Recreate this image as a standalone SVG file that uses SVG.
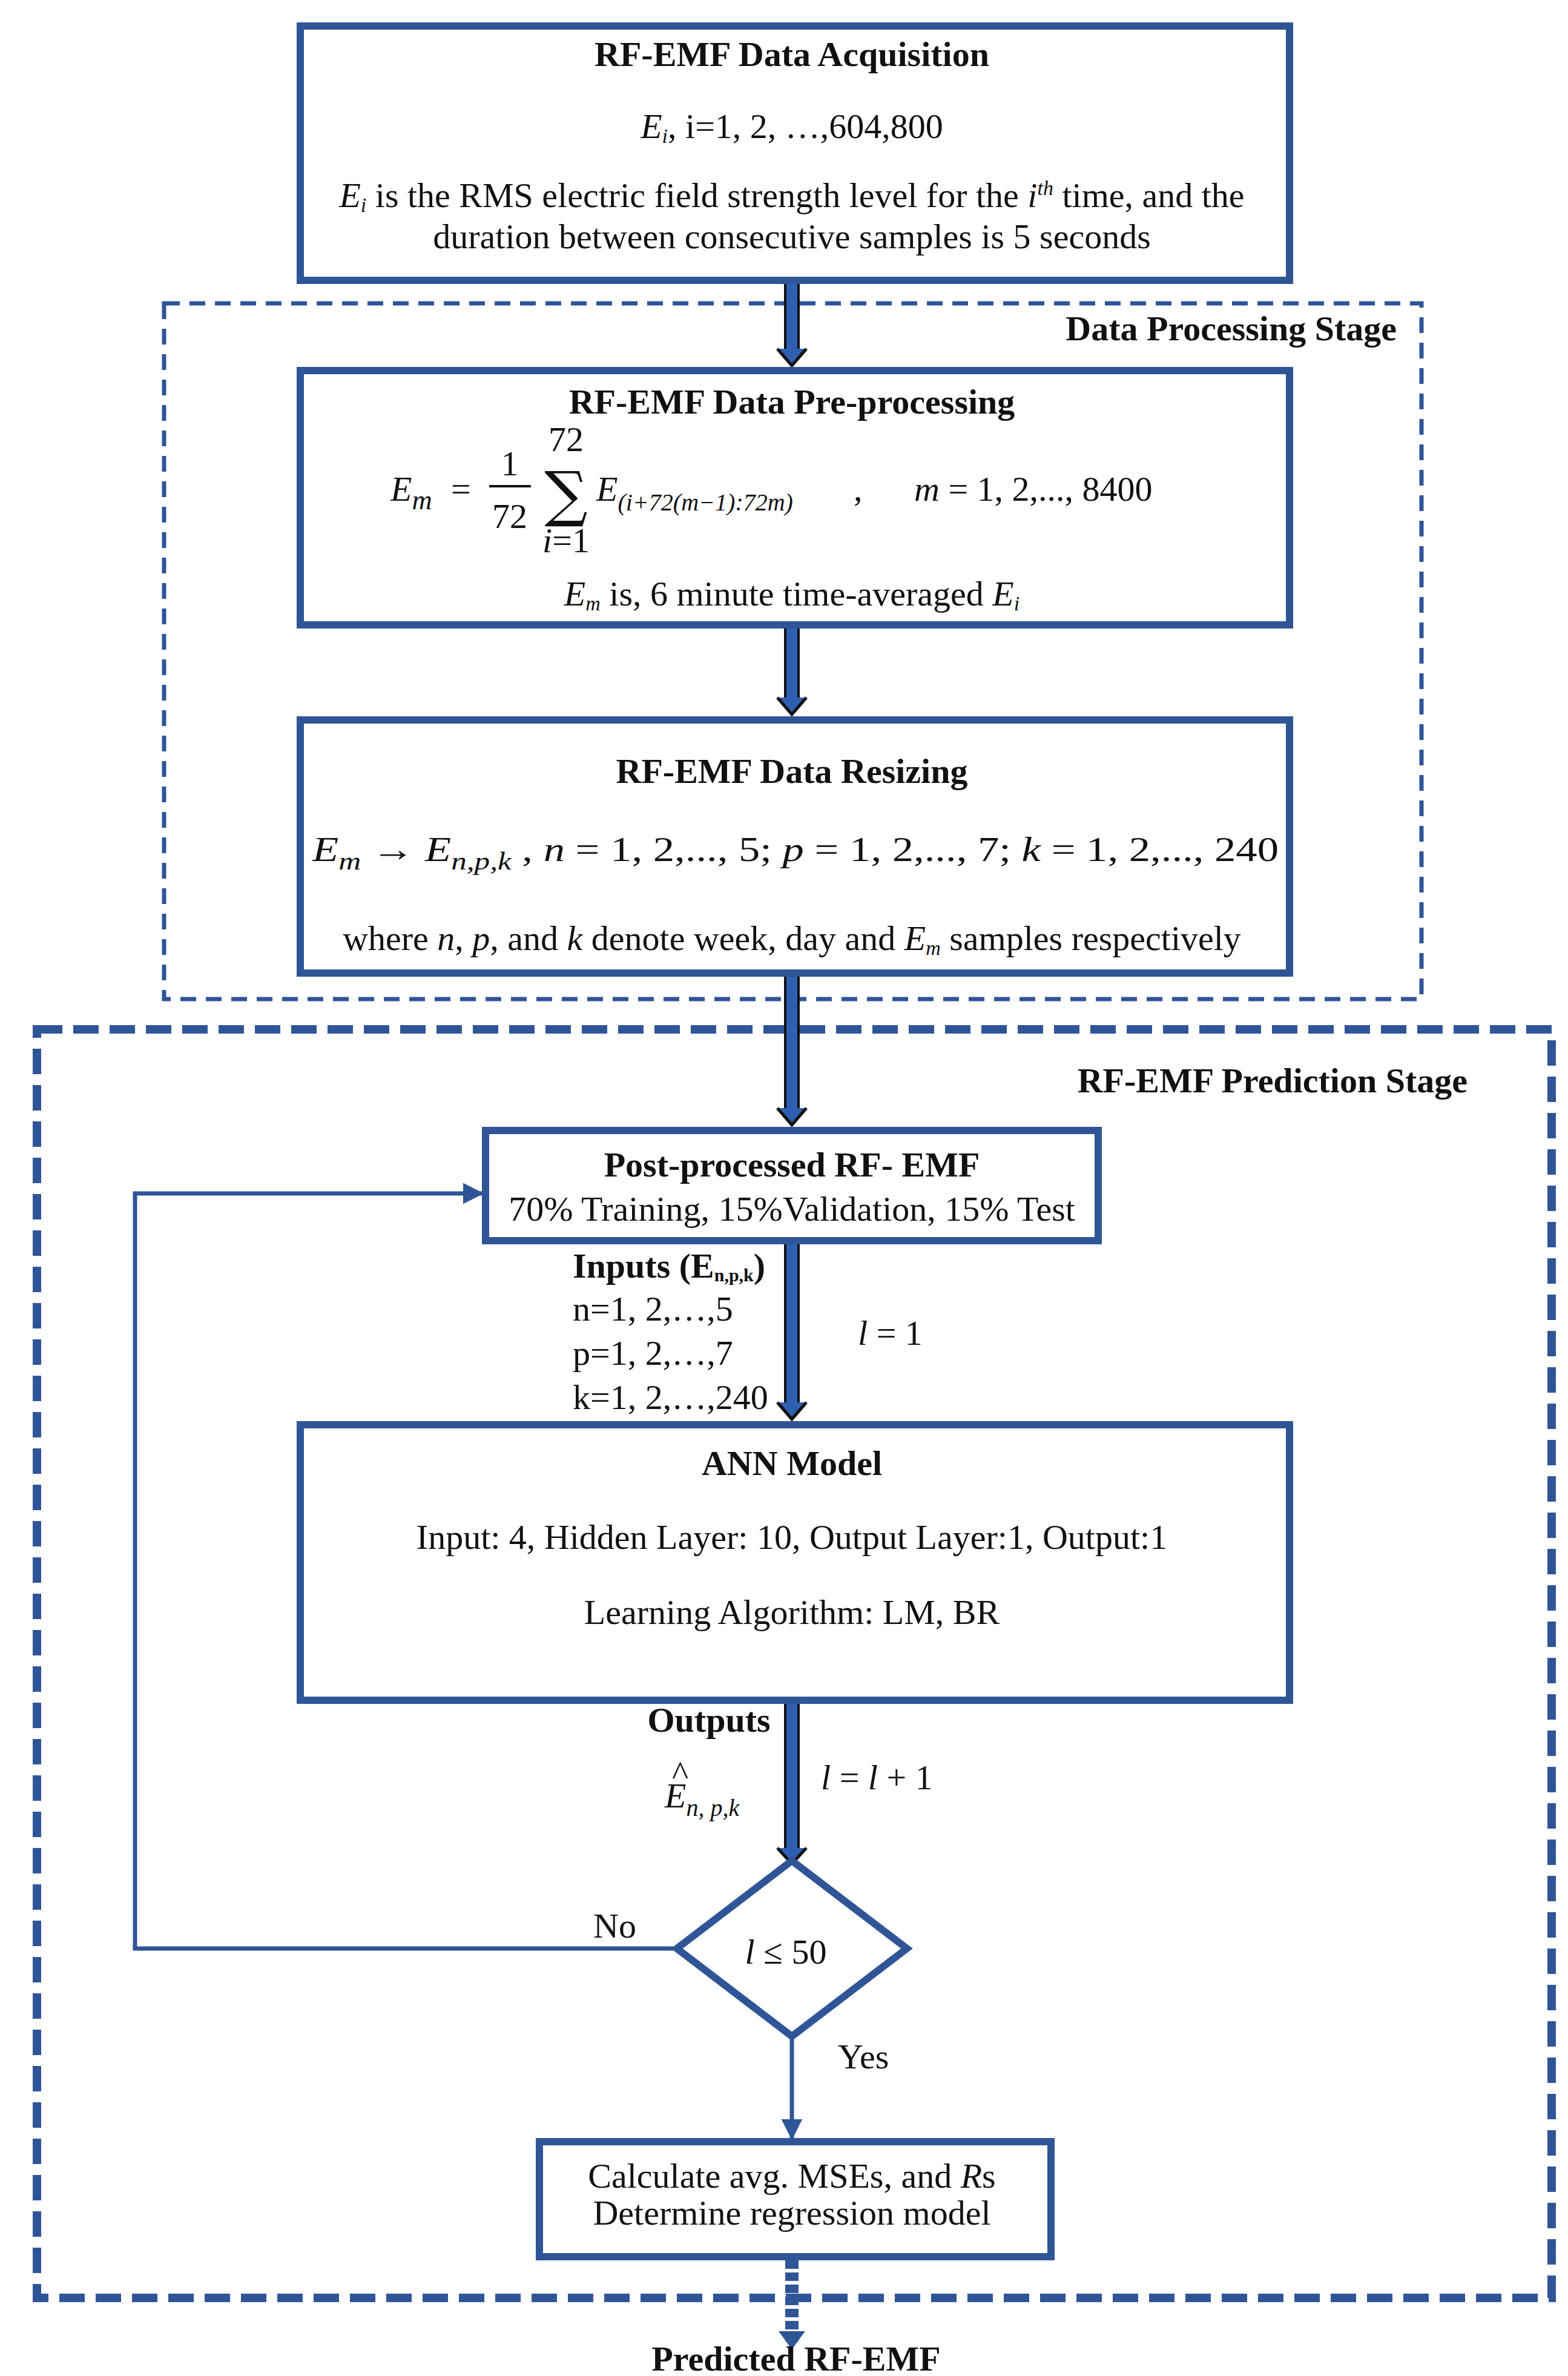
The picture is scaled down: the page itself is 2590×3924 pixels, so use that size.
<svg xmlns="http://www.w3.org/2000/svg" width="2590" height="3924" viewBox="0 0 2590 3924">
<style>
.box{fill:#fff;stroke:#2f5597;stroke-width:12}
.t{font-family:"Liberation Serif",serif;fill:#111;font-size:58px}
.b{font-weight:bold}
.i{font-style:italic}
.m{text-anchor:middle}
.shaft{fill:#2f5fb0;stroke:#111;stroke-width:4}
.head{fill:#2f5fb0;stroke:#111;stroke-width:5;stroke-linejoin:miter}
.thin{fill:none;stroke:#2f5597;stroke-width:7}
</style>
<defs>
<marker id="ah" viewBox="0 0 10 10" refX="9" refY="5" markerWidth="5" markerHeight="5" orient="auto"><path d="M0,0L10,5L0,10z" fill="#2f5597"/></marker>
</defs>
<rect width="2590" height="3924" fill="#fff"/>
<g id="stage1"><rect x="271" y="501" width="2077" height="1149" fill="none" stroke="#2f5597" stroke-width="7" stroke-dasharray="26 16"/>
<text class="t b" x="2307" y="562" text-anchor="end" font-size="74">Data Processing Stage</text></g>
<g id="stage2"><rect x="61" y="1700" width="2502" height="2095" fill="none" stroke="#2f5597" stroke-width="14" stroke-dasharray="42 18"/>
<text class="t b" x="2424" y="1804" text-anchor="end" font-size="74">RF-EMF Prediction Stage</text></g>
<g id="connectors">
<rect class="shaft" x="1297" y="466" width="22" height="116"/><path class="head" d="M1284,576L1308,604L1332,576"/>
<rect class="shaft" x="1297" y="1036" width="22" height="126"/><path class="head" d="M1284,1152L1308,1180L1332,1152"/>
<rect class="shaft" x="1297" y="1610" width="22" height="228"/><path class="head" d="M1284,1830L1308,1858L1332,1830"/>
<rect class="shaft" x="1297" y="2052" width="22" height="272"/><path class="head" d="M1284,2316L1308,2344L1332,2316"/>
<rect class="shaft" x="1297" y="2812" width="22" height="250"/><path class="head" d="M1284,3052L1308,3078L1332,3052"/>
<path class="thin" d="M1118,3218H223V1971H796" marker-end="url(#ah)"/>
<path class="thin" d="M1308,3363V3531" marker-end="url(#ah)"/>
<path d="M1308,3733V3870" stroke="#2f5597" stroke-width="22" stroke-dasharray="14 6"/>
<path d="M1286,3850L1308,3880L1330,3850z" fill="#2f5597"/>
</g>
<g id="acq"><rect class="box" x="496" y="43" width="1634" height="420"/>
<text class="t b m" x="1308" y="109" font-size="56">RF-EMF Data Acquisition</text>
<text class="t m" x="1308" y="228"><tspan class="i">E</tspan><tspan class="i" font-size="34" dy="8">i</tspan><tspan dy="-8">, i=1, 2, …,604,800</tspan></text>
<text class="t m" x="1308" y="342"><tspan class="i">E</tspan><tspan class="i" font-size="34" dy="8">i</tspan><tspan dy="-8"> is the RMS electric field strength level for the </tspan><tspan class="i">i</tspan><tspan class="i" font-size="34" dy="-20">th</tspan><tspan dy="20"> time, and the</tspan></text>
<text class="t m" x="1308" y="410">duration between consecutive samples is 5 seconds</text></g>
<g id="pre"><rect class="box" x="496" y="612" width="1634" height="420"/>
<text class="t b m" x="1308" y="683" font-size="56">RF-EMF Data Pre-processing</text>
<text class="t i" x="645" y="827" font-size="76">E<tspan font-size="46" dy="14">m</tspan></text>
<text class="t" x="745" y="827" font-size="76">=</text>
<text class="t m" x="842" y="785" font-size="68">1</text>
<line x1="808" y1="803" x2="877" y2="803" stroke="#111" stroke-width="4"/>
<text class="t m" x="842" y="872" font-size="68">72</text>
<text class="t m" x="935" y="745" font-size="38">72</text>
<text class="m" x="935" y="850" font-size="100" font-family="DejaVu Serif,serif" fill="#111">∑</text>
<text class="t m i" x="935" y="912" font-size="38">i<tspan font-style="normal">=1</tspan></text>
<text class="t i" x="985" y="827" font-size="76">E<tspan font-size="40" dy="16">(i+72(m−1):72m)</tspan></text>
<text class="t" x="1410" y="827" font-size="64">,</text>
<text class="t" x="1510" y="827" font-size="74"><tspan class="i">m</tspan> = 1, 2,..., 8400</text>
<text class="t m" x="1308" y="1000"><tspan class="i">E</tspan><tspan class="i" font-size="34" dy="8">m</tspan><tspan dy="-8"> is, 6 minute time-averaged </tspan><tspan class="i">E</tspan><tspan class="i" font-size="34" dy="8">i</tspan></text></g>
<g id="resize"><rect class="box" x="496" y="1189" width="1634" height="418"/>
<text class="t b m" x="1308" y="1293" font-size="56">RF-EMF Data Resizing</text>
<text class="t" x="516" y="1422" font-size="70" textLength="1596" lengthAdjust="spacingAndGlyphs"><tspan class="i">E</tspan><tspan class="i" font-size="42" dy="14">m</tspan><tspan dy="-14"> → </tspan><tspan class="i">E</tspan><tspan class="i" font-size="42" dy="14">n,p,k</tspan><tspan dy="-14">  ,  </tspan><tspan class="i">n</tspan> = 1, 2,..., 5;  <tspan class="i">p</tspan> = 1, 2,..., 7;  <tspan class="i">k</tspan> = 1, 2,..., 240</text>
<text class="t m" x="1308" y="1569">where <tspan class="i">n</tspan>, <tspan class="i">p</tspan>, and <tspan class="i">k</tspan> denote week, day and <tspan class="i">E</tspan><tspan class="i" font-size="34" dy="8">m</tspan><tspan dy="-8"> samples respectively</tspan></text></g>
<g id="post"><rect class="box" x="802" y="1867" width="1012" height="182"/>
<text class="t b m" x="1308" y="1943" font-size="56">Post-processed RF- EMF</text>
<text class="t m" x="1308" y="2016" font-size="59">70% Training, 15%Validation, 15% Test</text></g>
<g id="inputs">
<text class="t b" x="946" y="2110" font-size="46">Inputs (E<tspan font-size="30" dy="6">n,p,k</tspan><tspan dy="-6">)</tspan></text>
<text class="t" x="946" y="2181" font-size="48">n=1, 2,…,5</text>
<text class="t" x="946" y="2254" font-size="48">p=1, 2,…,7</text>
<text class="t" x="946" y="2327" font-size="48">k=1, 2,…,240</text>
<text class="t" x="1417" y="2221" font-size="62"><tspan class="i">l</tspan> = 1</text></g>
<g id="ann"><rect class="box" x="496" y="2353" width="1634" height="455"/>
<text class="t b m" x="1308" y="2436" font-size="80">ANN Model</text>
<text class="t m" x="1308" y="2558">Input: 4, Hidden Layer: 10, Output Layer:1, Output:1</text>
<text class="t m" x="1308" y="2682">Learning Algorithm: LM, BR</text></g>
<g id="outputs">
<text class="t b m" x="1171" y="2860" font-size="50">Outputs</text>
<text class="t i" x="1098" y="2985" font-size="62">E<tspan font-size="40" dy="14">n, p,k</tspan></text>
<text class="t" x="1110" y="2948" font-size="40">^</text>
<text class="t" x="1356" y="2955" font-size="64"><tspan class="i">l</tspan> = <tspan class="i">l</tspan> + 1</text></g>
<g id="decision"><path d="M1308,3073L1498,3218L1308,3363L1118,3218z" fill="#fff" stroke="#2f5597" stroke-width="12"/>
<text class="t m" x="1298" y="3243" font-size="66"><tspan class="i">l</tspan> ≤ 50</text>
<text class="t" x="980" y="3200" font-size="50">No</text>
<text class="t" x="1384" y="3416" font-size="50">Yes</text></g>
<g id="final"><rect class="box" x="891" y="3537" width="845" height="190"/>
<text class="t m" x="1308" y="3613" font-size="50">Calculate avg. MSEs, and <tspan class="i">R</tspan>s</text>
<text class="t m" x="1308" y="3674" font-size="50">Determine regression model</text></g>
<g id="result"><text class="t b m" x="1315" y="3915" font-size="56">Predicted RF-EMF</text></g>
</svg>
